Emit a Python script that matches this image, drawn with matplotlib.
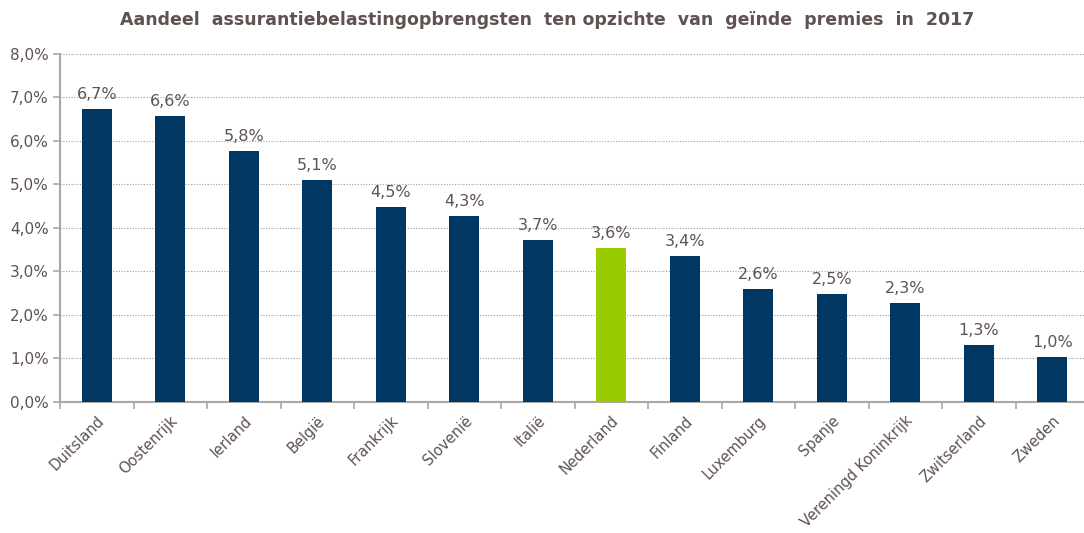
import numpy as np
import matplotlib.pyplot as plt
from matplotlib.ticker import FuncFormatter

landen = ['Duitsland', 'Oostenrijk', 'Ierland', 'België', 'Frankrijk', 'Slovenië',
          'Italië', 'Nederland', 'Finland', 'Luxemburg', 'Spanje',
          'Vereningd Koninkrijk', 'Zwitserland', 'Zweden']
aandeel = [6.74, 6.57, 5.77, 5.10, 4.48, 4.28, 3.72, 3.54, 3.36, 2.60, 2.48, 2.28, 1.31, 1.03]
labels = ['6,7%', '6,6%', '5,8%', '5,1%', '4,5%', '4,3%', '3,7%', '3,6%', '3,4%',
          '2,6%', '2,5%', '2,3%', '1,3%', '1,0%']

tekst = '#5e5350'
navy = '#003763'
groen = '#99cc00'

fig = plt.figure(figsize=(10.84, 5.33), dpi=100)
ax = fig.add_axes([0.0554, 0.2458, 0.9446, 0.6529])

x = np.arange(len(landen))
kleuren = [groen if l == 'Nederland' else navy for l in landen]
bars = ax.bar(x, aandeel, width=0.41, color=kleuren, zorder=3)
for b, lab in zip(bars, labels):
    ax.annotate(lab, (b.get_x() + b.get_width() / 2, b.get_height()),
                xytext=(0, 5), textcoords='offset points', ha='center', va='bottom',
                fontsize=11.5, color=tekst)

# rechterkant van de as valt net buiten beeld
ax.set_xlim(-0.5, 13.43)
ax.set_ylim(0, 8)
ax.set_yticks(np.arange(0, 9, 1))
ax.yaxis.set_major_formatter(FuncFormatter(lambda v, p: f'{v:.1f}%'.replace('.', ',')))
ax.yaxis.grid(True, linestyle=(0, (1, 1.5)), color='#a0a0a0', linewidth=0.8, zorder=0)

ax.set_xticks(x)
ax.set_xticklabels(landen, rotation=45, ha='right', rotation_mode='anchor')
ax.set_xticks(np.arange(-0.5, 13.0, 1), minor=True)
ax.tick_params(axis='x', which='major', length=0, pad=8, labelsize=10.5, labelcolor=tekst)
ax.tick_params(axis='x', which='minor', length=5, color='#a8a8a8', width=1.2)
ax.tick_params(axis='y', length=5, color='#a8a8a8', width=1.2, labelsize=11, labelcolor=tekst, pad=3)

for s in ['top', 'right']:
    ax.spines[s].set_visible(False)
for s in ['left', 'bottom']:
    ax.spines[s].set_color('#a8a8a8')
    ax.spines[s].set_linewidth(1.5)

fig.text(0.505, 0.963, 'Aandeel  assurantiebelastingopbrengsten  ten opzichte  van  geïnde  premies  in  2017',
         ha='center', va='center', fontsize=12.5, fontweight='bold', color=tekst)

fig.savefig('out.png', dpi=100)
